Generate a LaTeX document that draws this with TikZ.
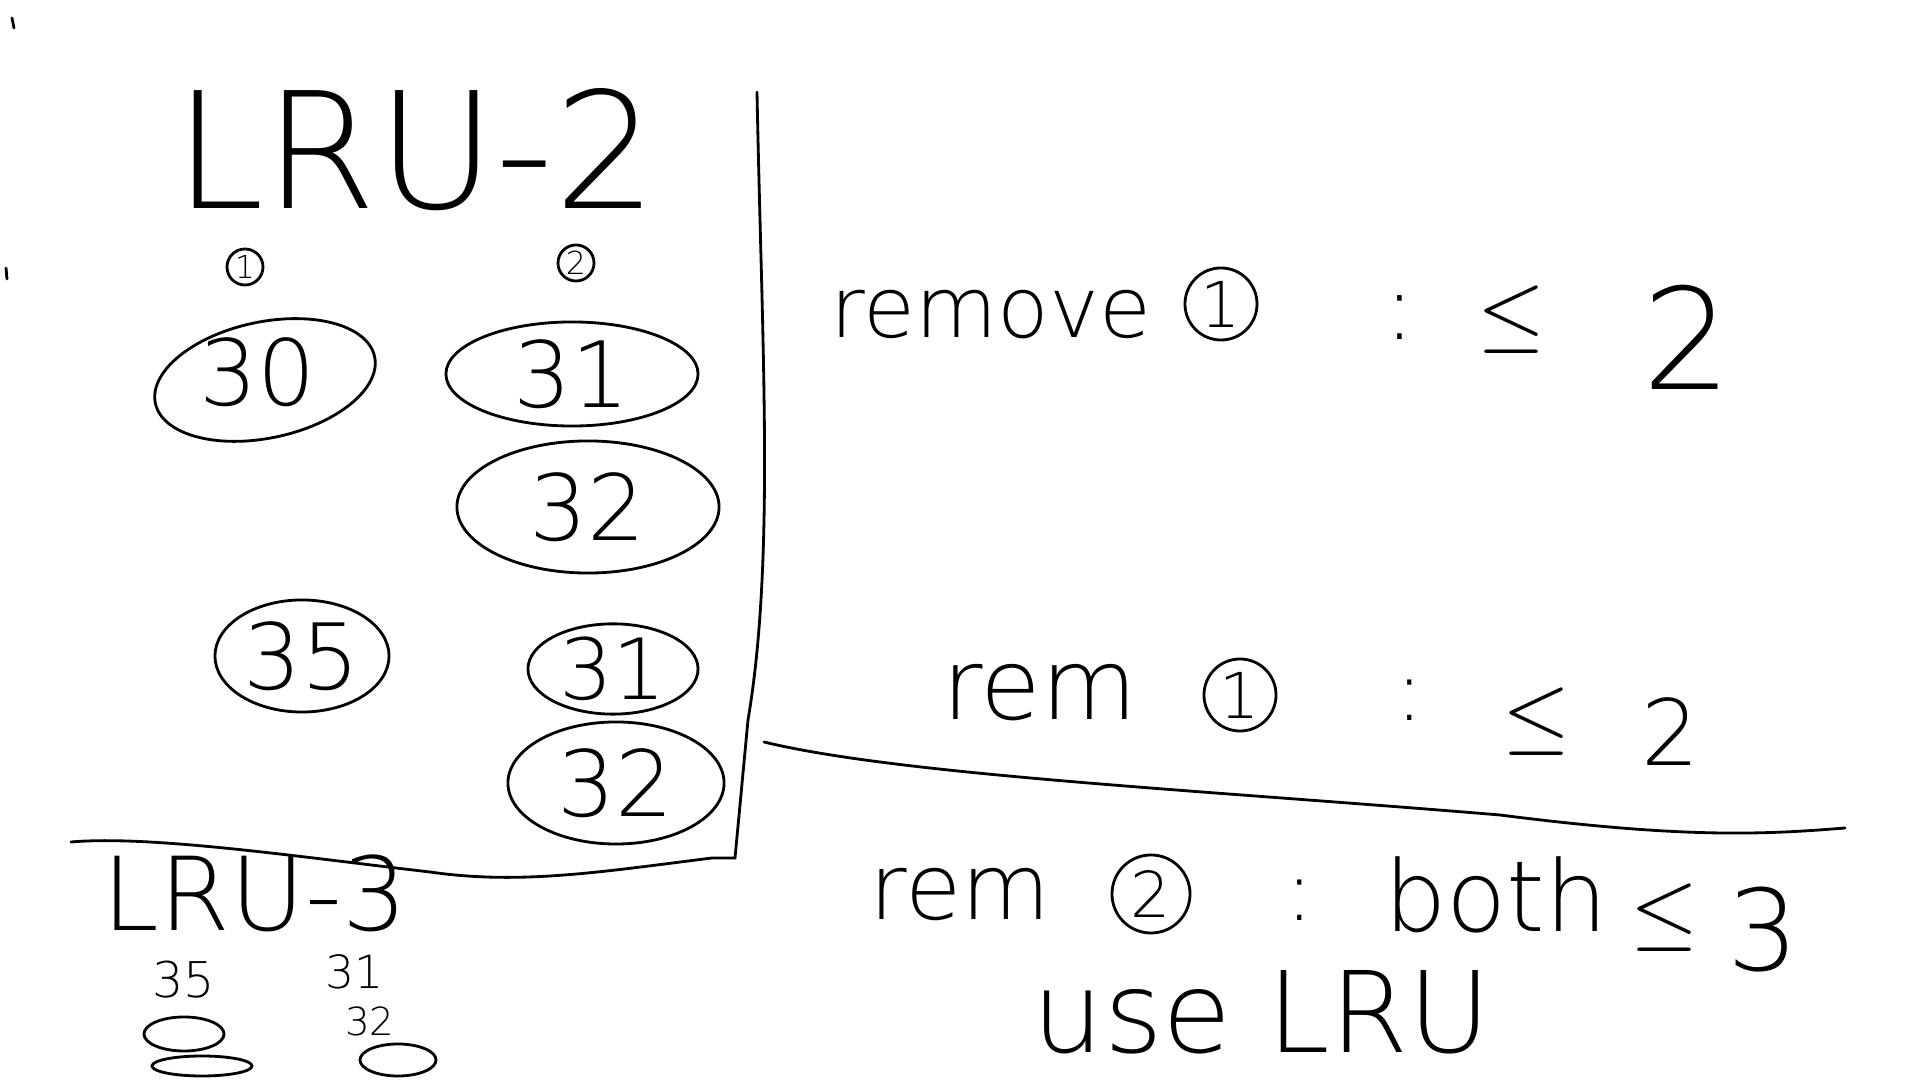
\documentclass[tikz,border=0pt]{standalone}
\usepackage{fontspec}
\setmainfont{DejaVu Sans ExtraLight}
\usetikzlibrary{shapes.geometric}
\tikzstyle{bubble}=[
	draw=black,
	shape=ellipse,
	line width=0.8pt,
	inner sep=0pt
]
\tikzstyle{ring}=[
	draw=black,
	shape=circle,
	line width=0.8pt,
	inner sep=0pt
]
\tikzstyle{pen} = [line width=0.8pt, line cap=round]
\tikzstyle{hand} = [inner sep=0pt]
\newcommand{\fs}[1]{\fontsize{#1}{#1}\selectfont}

\begin{document}
\begin{tikzpicture}[x=0.01cm, y=-0.01cm]
\useasboundingbox (0,0) rectangle (1920,1080);

% left panel: LRU-2
\node[hand, font=\fs{46}] (lrutwo) at (416,150) {LRU-2};
\node[ring, minimum size=0.36cm, font=\fs{9}] (one) at (245,267) {1};
\node[ring, minimum size=0.36cm, font=\fs{9}] (two) at (576,263) {2};

\node[bubble, minimum width=2.24cm, minimum height=1.16cm, rotate=12] (pa) at (265,380) {};
\node[hand, font=\fs{26}] (ta) at (258,372) {30};
\node[bubble, minimum width=2.52cm, minimum height=1.04cm, font=\fs{26}] (pb) at (572,374) {31};
\node[bubble, minimum width=2.62cm, minimum height=1.32cm, font=\fs{26}] (pc) at (588,507) {32};
\node[bubble, minimum width=1.74cm, minimum height=1.12cm, font=\fs{26}] (pd) at (302,656) {35};
\node[bubble, minimum width=1.70cm, minimum height=0.90cm, font=\fs{24}] (pe) at (613,669) {31};
\node[bubble, minimum width=2.16cm, minimum height=1.22cm, font=\fs{26}] (pf) at (616,783) {32};

% dividers
\draw[pen] (757,92) .. controls (762,350) and (775,560) .. (748,720) -- (735,858)
	-- (712,858) .. controls (600,872) and (520,885) .. (430,872)
	.. controls (300,857) and (150,835) .. (71,842);
\draw[pen] (764,742) .. controls (900,775) and (1200,790) .. (1500,815)
	.. controls (1680,838) and (1760,835) .. (1845,828);

% stray marks
\draw[pen] (12,18) -- (14,28);
\draw[pen] (6,268) -- (7,279);

% bottom left: LRU-3
\node[hand, font=\fs{29}] (lruthree) at (255,893) {LRU-3};
\node[hand, font=\fs{14}] (qa) at (184,980) {35};
\node[hand, font=\fs{13}] (qb) at (355,972) {31};
\node[hand, font=\fs{11}] (qc) at (370,1021) {32};
\node[bubble, minimum width=0.80cm, minimum height=0.34cm] (ra) at (184,1034) {};
\node[bubble, minimum width=1.00cm, minimum height=0.20cm] (rb) at (202,1066) {};
\node[bubble, minimum width=0.76cm, minimum height=0.32cm] (rc) at (398,1060) {};

% right panel
\node[hand, font=\fs{24}] (rmone) at (991,315) {remove};
\node[ring, minimum size=0.72cm, font=\fs{18}] (cone) at (1221,304) {1};
\node[hand, font=\fs{26}] (colone) at (1400,318) {:};
\node[hand, font=\fs{34}] (leone) at (1512,320) {$\leq$};
\node[hand, font=\fs{40}] (none) at (1687,337) {2};

\node[hand, font=\fs{28}] (rmtwo) at (1040,693) {rem};
\node[ring, minimum size=0.72cm, font=\fs{18}] (ctwo) at (1240,695) {1};
\node[hand, font=\fs{24}] (coltwo) at (1410,700) {:};
\node[hand, font=\fs{26}] (letwo) at (1537,722) {$\leq$};
\node[hand, font=\fs{26}] (ntwo) at (1671,732) {2};

\node[hand, font=\fs{26}] (rmthree) at (960,895) {rem};
\node[ring, minimum size=0.78cm, font=\fs{18}] (cthree) at (1151,894) {2};
\node[hand, font=\fs{24}] (colthree) at (1300,900) {:};
\node[hand, font=\fs{28}] (both) at (1496,895) {both};
\node[hand, font=\fs{28}] (lethree) at (1665,918) {$\leq$};
\node[hand, font=\fs{32}] (nthree) at (1763,930) {3};
\node[hand, font=\fs{32}] (use) at (1262,1012) {use LRU};

\end{tikzpicture}
\end{document}
